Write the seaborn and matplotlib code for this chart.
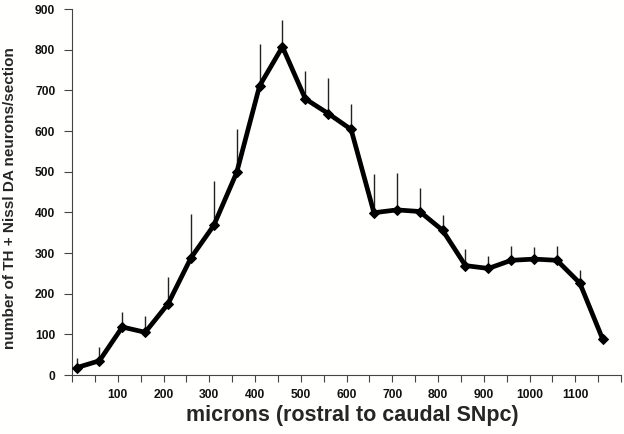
import matplotlib
matplotlib.use("Agg")
import matplotlib.pyplot as plt
import seaborn as sns
import pandas as pd
from matplotlib.ticker import MultipleLocator, FixedLocator

microns = [10, 60, 110, 160, 210, 260, 310, 360, 410, 460, 510, 560,
           610, 660, 710, 760, 810, 860, 910, 960, 1010, 1060, 1110, 1160]
neurons = [18, 35, 118, 105, 175, 288, 368, 498, 711, 807, 679, 643,
           604, 399, 406, 402, 356, 269, 262, 282, 285, 282, 226, 88]
err_top = [42, 70, 156, 145, 242, 396, 477, 604, 815, 873, 748, 731,
           666, 495, 497, 459, 393, 309, 292, 318, 314, 317, 258, None]
x_ticklabels = [str(v) for v in range(100, 1101, 100)]

sns.set_style("ticks")
plt.rcParams['font.family'] = ['Liberation Sans', 'DejaVu Sans']

df = pd.DataFrame({"microns": microns, "neurons": neurons})

fig = plt.figure(figsize=(6.24, 4.34), dpi=100)
fig.patch.set_facecolor("#fffffd")
ax = fig.add_axes([72/624, 1-375/434, (621-72)/624, (375-9)/434])
ax.set_facecolor("#fffffd")

for xv, yv, top in zip(microns, neurons, err_top):
    if top is not None:
        ax.vlines(xv, yv, top, color="#222222", lw=1.0, zorder=1)

sns.lineplot(data=df, x="microns", y="neurons", ax=ax, color="black",
             lw=3.4, marker="D", markersize=5.5, markeredgecolor="black",
             zorder=3)

ax.set_xlim(0, 1200)
ax.set_ylim(0, 900)
ax.xaxis.set_major_locator(FixedLocator(list(range(100, 1101, 100))))
ax.set_xticklabels(x_ticklabels)
ax.xaxis.set_minor_locator(MultipleLocator(50))
ax.yaxis.set_major_locator(MultipleLocator(100))

for lab in ax.get_xticklabels() + ax.get_yticklabels():
    lab.set_fontweight("bold")
    lab.set_fontsize(8.7)
    lab.set_color("#111111")

ax.tick_params(axis="x", which="both", length=5, width=0.8, color="#444444", pad=5)
ax.tick_params(axis="y", which="major", length=6, width=0.8, color="#444444", pad=6)

sns.despine(ax=ax)
for s in ["left", "bottom"]:
    ax.spines[s].set_color("#444444")
    ax.spines[s].set_linewidth(0.8)

ax.set_xlabel("microns (rostral to caudal SNpc)", fontsize=15.5,
              fontweight="bold")
ax.xaxis.set_label_coords((352 - 72) / 549, (375 - 416) / 366)
ax.xaxis.label.set_verticalalignment("center")
ax.set_ylabel("number of TH + Nissl DA neurons/section", fontsize=11,
              fontweight="bold")
ax.yaxis.set_label_coords((10 - 72) / 549, (375 - 198) / 366)
ax.yaxis.label.set_verticalalignment("center")

fig.savefig("out.png", dpi=100, facecolor=fig.get_facecolor())
